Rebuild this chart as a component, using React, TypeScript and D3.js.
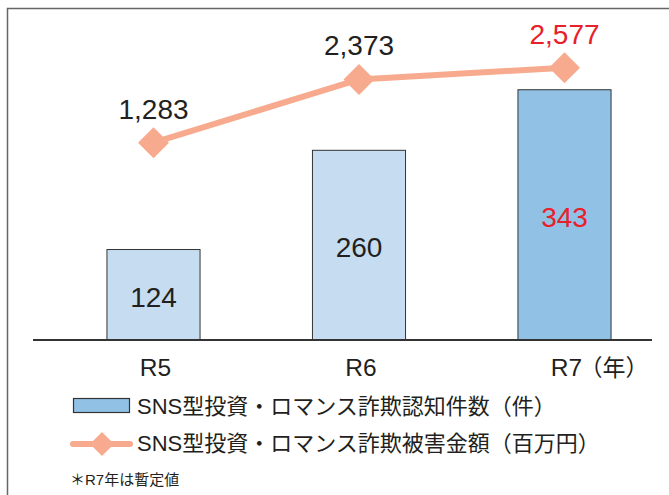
import React from "react";
import * as d3 from "d3";

const categories = ["R5", "R6", "R7"];
const caseCounts = [124, 260, 343];
const damageAmounts = [1283, 2373, 2577];
const amountLabels = ["1,283", "2,373", "2,577"];
const highlightIndex = 2;
const legendLabels = [
  "SNS型投資・ロマンス詐欺認知件数（件）",
  "SNS型投資・ロマンス詐欺被害金額（百万円）",
];
const yearUnit = "（年）";
const footnote = "＊R7年は暫定値";

const W = 669;
const H = 495;
const FONT = "'Liberation Sans', Arial, 'Noto Sans CJK JP', sans-serif";
const TEXT = "#231f20";
const RED = "#e8202a";
const LIGHT_BAR = "#c6ddf1";
const DARK_BAR = "#92c1e6";
const LINE = "#f7aa8d";

export default function App() {
  const x = d3
    .scaleBand<string>()
    .domain(categories)
    .range([50.75, 667.25])
    .paddingInner(0.547)
    .paddingOuter(0.2735);
  const yBar = d3.scaleLinear().domain([0, 466]).range([340, 0]);
  const yLine = d3.scaleLinear().domain([0, 3744]).range([217, 0]);
  const cx = (c: string) => (x(c) as number) + x.bandwidth() / 2;

  const linePath = d3
    .line<number>()
    .x((_, i) => cx(categories[i]))
    .y((d) => yLine(d))(damageAmounts);

  const diamond = (px: number, py: number, r: number) =>
    `M${px},${py - r}L${px + r},${py}L${px},${py + r}L${px - r},${py}Z`;

  return (
    <svg
      width={W}
      height={H}
      style={{ position: "absolute", left: 0, top: 0, background: "#fff" }}
      fontFamily={FONT}
    >
      <rect x={7.5} y={8.5} width={700} height={600} fill="#fff" stroke="#666" strokeWidth={1.5} />

      {caseCounts.map((v, i) => {
        const c = categories[i];
        const top = yBar(v);
        const bottom = yBar(0);
        return (
          <g key={c}>
            <rect
              x={x(c)}
              y={top}
              width={x.bandwidth()}
              height={bottom - top}
              fill={i === highlightIndex ? DARK_BAR : LIGHT_BAR}
              stroke="#333"
              strokeWidth={1}
            />
            <text
              x={cx(c)}
              y={(top + bottom) / 2 + 12}
              textAnchor="middle"
              fontSize={28}
              fill={i === highlightIndex ? RED : TEXT}
            >
              {v}
            </text>
          </g>
        );
      })}

      <line x1={33} x2={652} y1={yBar(0)} y2={yBar(0)} stroke="#333" strokeWidth={2} />

      <path d={linePath || ""} fill="none" stroke={LINE} strokeWidth={6} />
      {damageAmounts.map((v, i) => {
        const c = categories[i];
        return (
          <g key={c}>
            <path d={diamond(cx(c), yLine(v), 15.5)} fill={LINE} />
            <text
              x={cx(c)}
              y={yLine(v) - 24}
              textAnchor="middle"
              fontSize={28}
              fill={i === highlightIndex ? RED : TEXT}
            >
              {amountLabels[i]}
            </text>
          </g>
        );
      })}

      {categories.map((c, i) => (
        <g key={c}>
          <text x={cx(c) + 2} y={376} textAnchor="middle" fontSize={24.5} fill={TEXT}>
            {c}
          </text>
          {i === categories.length - 1 && (
            <text x={cx(c) + 15} y={376} fontSize={23} fill={TEXT}>
              {yearUnit}
            </text>
          )}
        </g>
      ))}

      <rect x={73.5} y={398.5} width={56} height={14} fill={DARK_BAR} stroke="#333" strokeWidth={1.2} />
      <text x={137} y={413.5} fontSize={22} fill={TEXT}>
        {legendLabels[0]}
      </text>
      <line x1={73} x2={130} y1={444} y2={444} stroke={LINE} strokeWidth={6} strokeLinecap="round" />
      <path d={diamond(102, 444, 12)} fill={LINE} />
      <text x={137} y={451} fontSize={22} fill={TEXT}>
        {legendLabels[1]}
      </text>

      <text x={70} y={485} fontSize={15} fill={TEXT}>
        {footnote}
      </text>
    </svg>
  );
}
